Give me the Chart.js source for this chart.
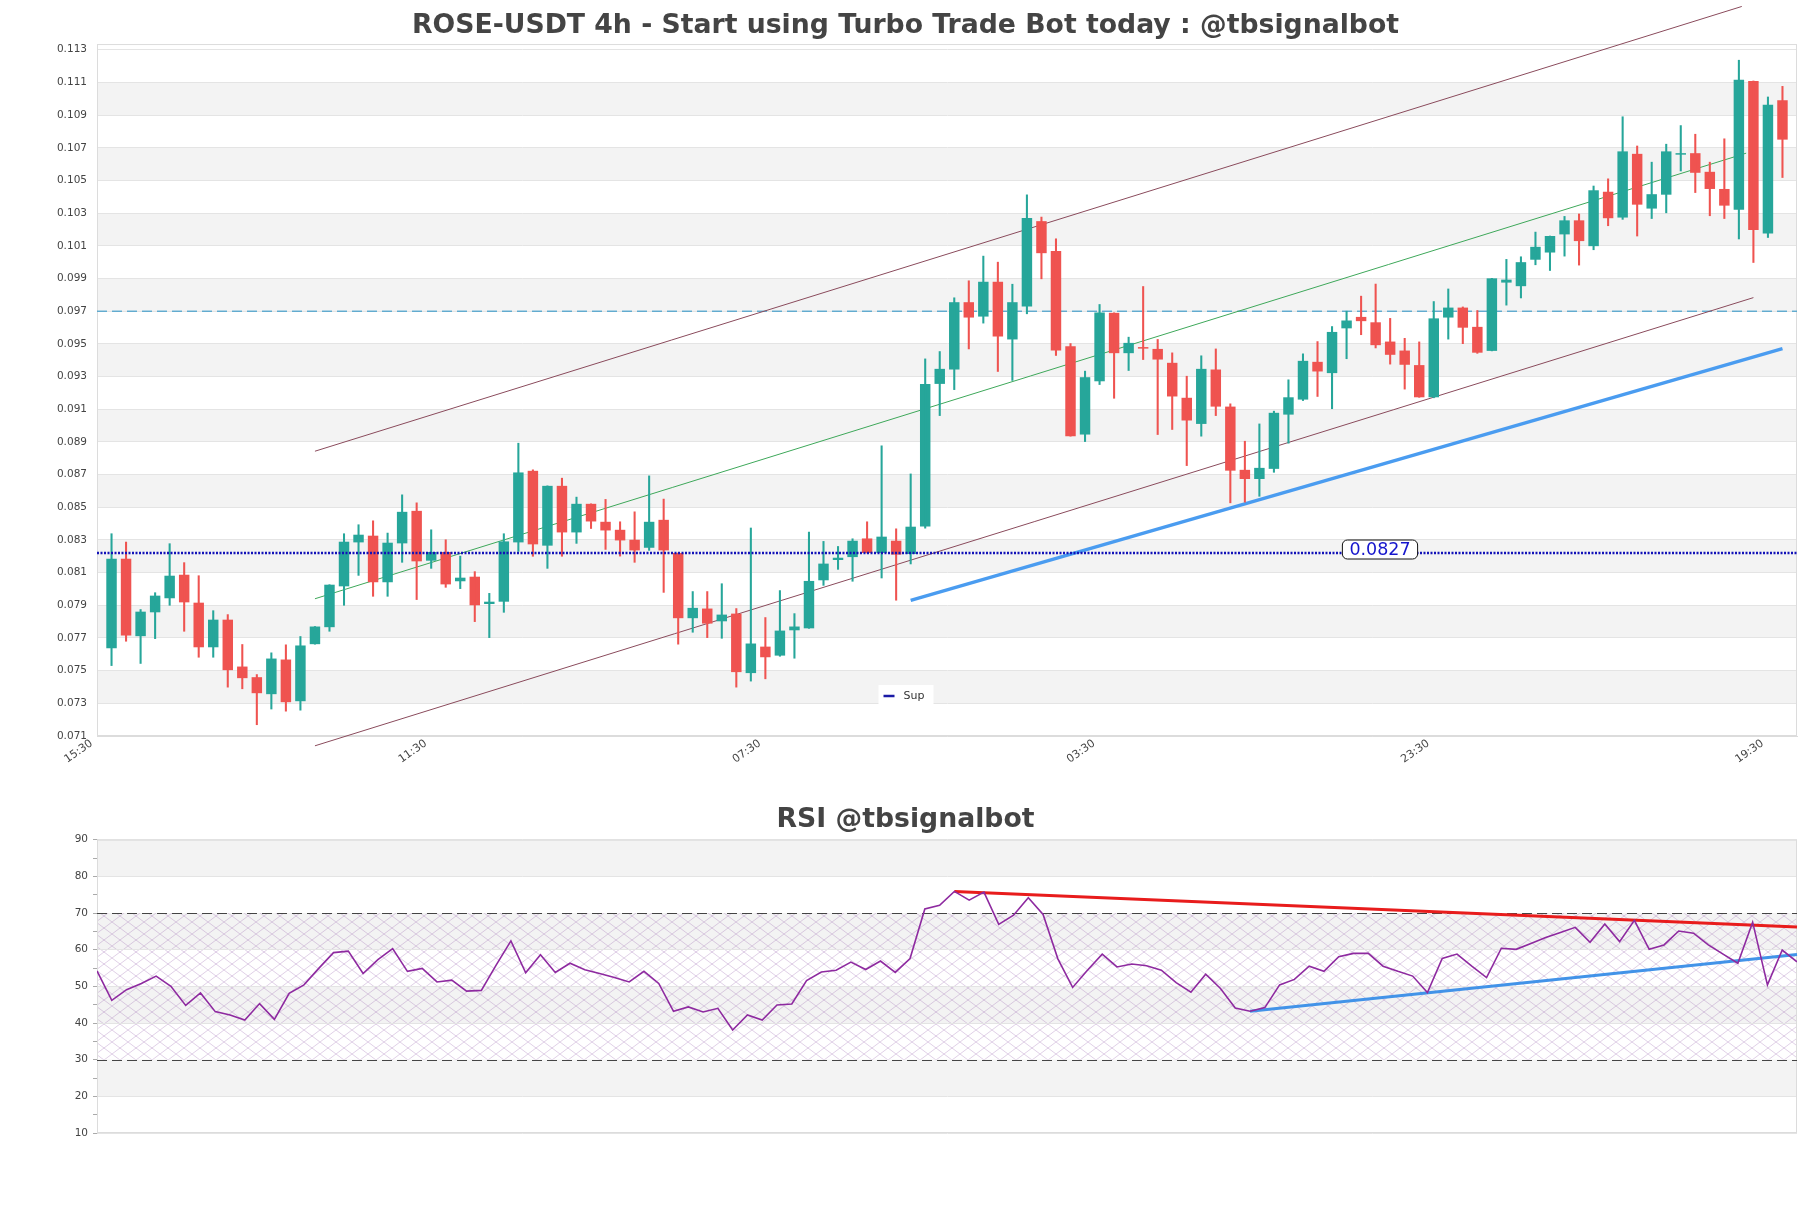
<!DOCTYPE html>
<html lang="en">
<head>
<meta charset="UTF-8">
<title>ROSE-USDT 4h</title>
<script src="https://cdn.jsdelivr.net/npm/chart.js@4.4.1/dist/chart.umd.min.js"></script>
<style>
  html, body { margin: 0; padding: 0; background: #fff; }
  #wrap { position: relative; width: 1811px; height: 1208px; overflow: hidden; }
  #priceChart { position: absolute; left: 0; top: 0; }
  #rsiChart { position: absolute; left: 0; top: 790px; }
</style>
</head>
<body>
<div id="wrap">
  <canvas id="priceChart" width="1811" height="790"></canvas>
  <canvas id="rsiChart" width="1811" height="418"></canvas>
</div>
<script>
// --- candle times (4h) ---
const times = [
  '15:30','19:30','23:30','03:30','07:30','11:30', '15:30','19:30','23:30','03:30','07:30','11:30',
  '15:30','19:30','23:30','03:30','07:30','11:30', '15:30','19:30','23:30','03:30','07:30','11:30',
  '15:30','19:30','23:30','03:30','07:30','11:30', '15:30','19:30','23:30','03:30','07:30','11:30',
  '15:30','19:30','23:30','03:30','07:30','11:30', '15:30','19:30','23:30','03:30','07:30','11:30',
  '15:30','19:30','23:30','03:30','07:30','11:30', '15:30','19:30','23:30','03:30','07:30','11:30',
  '15:30','19:30','23:30','03:30','07:30','11:30', '15:30','19:30','23:30','03:30','07:30','11:30',
  '15:30','19:30','23:30','03:30','07:30','11:30', '15:30','19:30','23:30','03:30','07:30','11:30',
  '15:30','19:30','23:30','03:30','07:30','11:30', '15:30','19:30','23:30','03:30','07:30','11:30',
  '15:30','19:30','23:30','03:30','07:30','11:30', '15:30','19:30','23:30','03:30','07:30','11:30',
  '15:30','19:30','23:30','03:30','07:30','11:30', '15:30','19:30'
];

// --- OHLC ---
const opens = [
  0.07637,0.08185,0.07711,0.07857,0.07943,0.08087,0.07916,0.07643,0.07812,0.07525,
  0.07460,0.07356,0.07568,0.07313,0.07662,0.07766,0.08016,0.08285,0.08326,0.08041,
  0.08279,0.08478,0.08173,0.08226,0.08047,0.08075,0.07908,0.07922,0.08285,0.08723,
  0.08265,0.08631,0.08346,0.08521,0.08411,0.08362,0.08301,0.08252,0.08423,0.08220,
  0.07821,0.07880,0.07802,0.07849,0.07485,0.07647,0.07592,0.07747,0.07759,0.08053,
  0.08177,0.08195,0.08309,0.08220,0.08295,0.08214,0.08382,0.09255,0.09343,0.09755,
  0.09667,0.09880,0.09527,0.09729,0.10251,0.10069,0.09486,0.08945,0.09271,0.09690,
  0.09443,0.09480,0.09469,0.09384,0.09170,0.09010,0.09343,0.09116,0.08729,0.08673,
  0.08735,0.09067,0.09159,0.09390,0.09321,0.09595,0.09665,0.09632,0.09514,0.09459,
  0.09370,0.09173,0.09661,0.09722,0.09604,0.09457,0.09875,0.09853,0.10015,0.10059,
  0.10170,0.10256,0.10098,0.10431,0.10273,0.10663,0.10328,0.10413,0.10658,0.10667,
  0.10553,0.10448,0.10321,0.11109,0.10175,0.10991
];
const highs = [
  0.08338,0.08287,0.07874,0.07977,0.08277,0.08161,0.08081,0.07867,0.07843,0.07660,
  0.07476,0.07609,0.07658,0.07709,0.07770,0.08026,0.08338,0.08393,0.08417,0.08342,
  0.08576,0.08527,0.08362,0.08301,0.08201,0.08106,0.07973,0.08338,0.08892,0.08729,
  0.08631,0.08678,0.08562,0.08521,0.08548,0.08411,0.08472,0.08692,0.08550,0.08220,
  0.07984,0.07984,0.08032,0.07880,0.08373,0.07825,0.07990,0.07849,0.08348,0.08291,
  0.08260,0.08307,0.08411,0.08876,0.08368,0.08704,0.09408,0.09453,0.09782,0.09886,
  0.10037,0.10000,0.09865,0.10412,0.10276,0.10143,0.09502,0.09333,0.09741,0.09690,
  0.09541,0.09851,0.09527,0.09445,0.09302,0.09427,0.09469,0.09133,0.08904,0.09010,
  0.09088,0.09280,0.09439,0.09514,0.09606,0.09700,0.09792,0.09866,0.09656,0.09534,
  0.09512,0.09759,0.09836,0.09726,0.09704,0.09901,0.10017,0.10033,0.10184,0.10160,
  0.10280,0.10295,0.10466,0.10510,0.10890,0.10711,0.10612,0.10722,0.10836,0.10783,
  0.10612,0.10755,0.11236,0.11109,0.11011,0.11076
];
const lows = [
  0.07531,0.07680,0.07544,0.07696,0.07900,0.07741,0.07582,0.07582,0.07399,0.07389,
  0.07169,0.07265,0.07252,0.07258,0.07662,0.07741,0.07900,0.08083,0.07955,0.07955,
  0.08163,0.07935,0.08126,0.08010,0.08002,0.07800,0.07702,0.07857,0.08230,0.08200,
  0.08126,0.08200,0.08279,0.08370,0.08242,0.08201,0.08163,0.08236,0.07979,0.07662,
  0.07735,0.07702,0.07698,0.07399,0.07436,0.07450,0.07588,0.07576,0.07759,0.08022,
  0.08120,0.08047,0.08220,0.08067,0.07931,0.08153,0.08372,0.09061,0.09220,0.09469,
  0.09627,0.09331,0.09276,0.09684,0.09898,0.09429,0.08935,0.08902,0.09251,0.09167,
  0.09337,0.09404,0.08945,0.08976,0.08755,0.08935,0.09061,0.08527,0.08531,0.08567,
  0.08714,0.08892,0.09153,0.09178,0.09103,0.09409,0.09556,0.09475,0.09376,0.09223,
  0.09173,0.09170,0.09529,0.09501,0.09442,0.09457,0.09737,0.09781,0.09984,0.09949,
  0.10037,0.09982,0.10076,0.10223,0.10262,0.10160,0.10267,0.10302,0.10558,0.10426,
  0.10284,0.10267,0.10142,0.09998,0.10151,0.10518
];
const closes = [
  0.08185,0.07715,0.07861,0.07959,0.08081,0.07918,0.07643,0.07812,0.07503,0.07454,
  0.07362,0.07574,0.07307,0.07654,0.07770,0.08026,0.08289,0.08332,0.08041,0.08283,
  0.08472,0.08169,0.08226,0.08028,0.08069,0.07900,0.07922,0.08291,0.08713,0.08273,
  0.08631,0.08346,0.08521,0.08413,0.08358,0.08297,0.08236,0.08411,0.08236,0.07821,
  0.07884,0.07788,0.07843,0.07491,0.07666,0.07582,0.07745,0.07770,0.08049,0.08155,
  0.08191,0.08295,0.08220,0.08320,0.08210,0.08381,0.09255,0.09347,0.09755,0.09661,
  0.09880,0.09545,0.09755,0.10271,0.10055,0.09459,0.08935,0.09296,0.09692,0.09443,
  0.09506,0.09471,0.09404,0.09178,0.09031,0.09347,0.09116,0.08724,0.08673,0.08741,
  0.09078,0.09173,0.09396,0.09331,0.09573,0.09643,0.09639,0.09492,0.09433,0.09372,
  0.09173,0.09656,0.09722,0.09599,0.09446,0.09901,0.09893,0.10000,0.10094,0.10160,
  0.10256,0.10129,0.10440,0.10269,0.10678,0.10352,0.10416,0.10678,0.10667,0.10547,
  0.10448,0.10346,0.11116,0.10197,0.10963,0.10750
];

// --- price axis ticks ---
const priceTicks = [0.071,0.073,0.075,0.077,0.079,0.081,0.083,0.085,0.087,0.089,0.091,
                    0.093,0.095,0.097,0.099,0.101,0.103,0.105,0.107,0.109,0.111,0.113];
const xTickIdx = [0, 23, 46, 69, 92, 115];

// --- drawn levels and trend lines (index, price) ---
const resistLevel = 0.097;
const supLevel = 0.0822;
const supLabelText = '0.0827';
const supLabelIdx = 87.3;
const channelUpper = [[14, 0.08843], [112.2, 0.11565]];
const channelMid   = [[14, 0.07940], [112.5, 0.10667]];
const channelLower = [[14, 0.07040], [113.0, 0.09783]];
const supportLine  = [[55.0, 0.07930], [115, 0.09471]];

// --- RSI ---
const rsi = [
  54.2,46.2,49.1,50.8,52.8,50.0,44.8,48.2,43.1,42.2,
  40.8,45.3,41.0,48.1,50.4,54.9,59.2,59.6,53.5,57.3,
  60.3,54.1,54.9,51.2,51.7,48.7,48.9,55.8,62.4,53.7,
  58.6,53.8,56.3,54.5,53.5,52.4,51.2,54.1,50.8,43.2,
  44.4,43.0,44.0,38.1,42.2,40.8,44.9,45.2,51.6,53.9,
  54.4,56.6,54.6,56.9,53.8,57.6,71.1,72.1,75.9,73.5,
  75.7,66.9,69.4,74.2,69.6,57.5,49.7,54.4,58.8,55.3,
  56.1,55.6,54.4,51.0,48.4,53.3,49.4,44.1,43.2,44.2,
  50.4,51.9,55.5,54.1,58.1,59.0,59.0,55.5,54.1,52.8,
  48.3,57.6,58.8,55.5,52.4,60.4,60.1,61.7,63.3,64.7,
  66.1,62.0,67.0,62.2,68.0,60.1,61.3,65.1,64.5,61.3,
  58.8,56.3,67.5,50.4,59.9,56.7
];
const rsiTicks = [10, 20, 30, 40, 50, 60, 70, 80, 90];
const rsiMinorTicks = [10,15,20,25,30,35,40,45,50,55,60,65,70,75,80,85,90];
const rsiLevels = [70, 30];
const rsiResist = [[58, 75.9], [115, 66.2]];
const rsiSupport = [[78, 43.2], [115, 58.7]];

const UP = '#26a69a', DOWN = '#ef5350';
Chart.defaults.font.family = '"DejaVu Sans", sans-serif';
Chart.defaults.color = '#444';

const pts = arr => arr.map(p => ({x: p[0], y: p[1]}));

// alternating grey bands between ticks, optional hatch between rsi levels
const bandsPlugin = {
  id: 'bands',
  beforeDraw(chart, args, opts) {
    const {ctx, chartArea: a} = chart;
    const y = chart.scales.y;
    const t = opts.ticks;
    ctx.save();
    ctx.fillStyle = '#f3f3f3';
    for (let k = 1; k < t.length - 1; k += 2) {
      const top = y.getPixelForValue(t[k + 1]), bot = y.getPixelForValue(t[k]);
      ctx.fillRect(a.left, top, a.right - a.left, bot - top);
    }
    if (opts.hatch) {
      const tile = document.createElement('canvas');
      tile.width = 16; tile.height = 12;
      const tc = tile.getContext('2d');
      tc.strokeStyle = 'rgba(160,110,180,0.32)';
      tc.lineWidth = 1;
      tc.beginPath();
      tc.moveTo(0, 0); tc.lineTo(16, 12);
      tc.moveTo(16, 0); tc.lineTo(0, 12);
      tc.stroke();
      ctx.fillStyle = ctx.createPattern(tile, 'repeat');
      const top = y.getPixelForValue(opts.hatch[0]), bot = y.getPixelForValue(opts.hatch[1]);
      ctx.fillRect(a.left, top, a.right - a.left, bot - top);
    }
    ctx.restore();
  },
  beforeDatasetsDraw(chart, args, opts) {
    const {ctx, chartArea: a} = chart;
    ctx.save();
    ctx.strokeStyle = '#dcdcdc';
    ctx.lineWidth = 1;
    ctx.strokeRect(a.left + 0.5, a.top + 0.5, a.right - a.left - 1, a.bottom - a.top - 1);
    if (opts.levels) {
      const y = chart.scales.y;
      ctx.strokeStyle = '#444';
      ctx.setLineDash([10, 5]);
      opts.levels.forEach(v => {
        const py = Math.round(y.getPixelForValue(v)) + 0.5;
        ctx.beginPath(); ctx.moveTo(a.left, py); ctx.lineTo(a.right, py); ctx.stroke();
      });
    }
    ctx.restore();
  }
};

// price label box on support line + "Sup" legend
const supLabelPlugin = {
  id: 'supLabel',
  afterDatasetsDraw(chart) {
    const {ctx, chartArea: a} = chart;
    const x = chart.scales.x, y = chart.scales.y;
    const cx = x.getPixelForValue(supLabelIdx);
    const cy = y.getPixelForValue(supLevel) - 3.5;
    ctx.save();
    ctx.font = '17.5px "DejaVu Sans"';
    const w = ctx.measureText(supLabelText).width + 14, h = 19;
    ctx.beginPath();
    ctx.roundRect(cx - w / 2, cy - h / 2, w, h, 5);
    ctx.fillStyle = '#fff'; ctx.fill();
    ctx.strokeStyle = '#111'; ctx.lineWidth = 1; ctx.stroke();
    ctx.fillStyle = '#1515cc';
    ctx.textAlign = 'center'; ctx.textBaseline = 'middle';
    ctx.fillText(supLabelText, cx, cy + 1);

    const lx = chart.width / 2, ly = a.bottom - 40;
    ctx.fillStyle = '#fff';
    ctx.fillRect(lx - 27, ly - 11, 55, 21);
    ctx.strokeStyle = '#1a1aa6'; ctx.lineWidth = 2.5;
    ctx.beginPath(); ctx.moveTo(lx - 22, ly); ctx.lineTo(lx - 11, ly); ctx.stroke();
    ctx.fillStyle = '#333';
    ctx.font = '11px "DejaVu Sans"';
    ctx.textAlign = 'left';
    ctx.fillText('Sup', lx - 2, ly);
    ctx.restore();
  }
};

const lineDs = (data, color, width, extra) => Object.assign({
  type: 'line', data, borderColor: color, borderWidth: width,
  pointRadius: 0, fill: false, clip: false, order: 1
}, extra || {});

const bodies = opens.map((o, i) => ({x: i, y: [o, closes[i]]}));
const wicks = lows.map((l, i) => ({x: i, y: [l, highs[i]]}));
const candleColor = ctx => closes[ctx.dataIndex] >= opens[ctx.dataIndex] ? UP : DOWN;

new Chart(document.getElementById('priceChart'), {
  type: 'bar',
  data: {
    datasets: [
      {data: wicks, backgroundColor: candleColor, barThickness: 1.4, grouped: false, order: 0},
      {data: bodies, backgroundColor: candleColor, grouped: false, minBarLength: 1.5, order: 0},
      lineDs(pts(channelUpper), '#8a4b5c', 1),
      lineDs(pts(channelMid), '#3ea85a', 1),
      lineDs(pts(channelLower), '#8a4b5c', 1),
      lineDs(pts(supportLine), '#4a9cf0', 3.5),
      lineDs([{x: -1, y: resistLevel}, {x: 116, y: resistLevel}], '#2490c6', 1, {borderDash: [10, 5]}),
      lineDs([{x: -1, y: supLevel}, {x: 116, y: supLevel}], '#1212b8', 2.5, {borderDash: [2, 1.5], order: -1, label: 'Sup'})
    ]
  },
  options: {
    responsive: false,
    animation: false,
    layout: {padding: {left: 14, right: 14, top: 0, bottom: 0}},
    plugins: {
      legend: {display: false},
      tooltip: {enabled: false},
      title: {
        display: true,
        text: 'ROSE-USDT 4h - Start using Turbo Trade Bot today : @tbsignalbot',
        color: '#444',
        font: {size: 26.7, weight: 'bold'},
        padding: {top: 10.3, bottom: 1.7}
      },
      bands: {ticks: priceTicks}
    },
    scales: {
      x: {
        type: 'linear', min: -1, max: 116, offset: false,
        grid: {display: false, drawTicks: false},
        border: {color: '#dcdcdc'},
        afterBuildTicks: axis => { axis.ticks = xTickIdx.map(v => ({value: v})); },
        afterFit: s => { s.height = 54; },
        ticks: {
          font: {size: 11}, color: '#444',
          minRotation: 35, maxRotation: 35, labelOffset: -20, padding: 1,
          callback: v => times[v] || ''
        }
      },
      y: {
        min: 0.071, max: 0.11335,
        grid: {color: '#e4e4e4', drawTicks: false},
        border: {color: '#dcdcdc'},
        afterBuildTicks: axis => { axis.ticks = priceTicks.map(v => ({value: v})); },
        afterFit: s => { s.width = 83; },
        ticks: {font: {size: 10.5}, color: '#444', padding: 10, callback: v => v.toFixed(3)}
      }
    }
  },
  plugins: [bandsPlugin, supLabelPlugin]
});

new Chart(document.getElementById('rsiChart'), {
  type: 'line',
  data: {
    datasets: [
      lineDs(rsi.map((v, i) => ({x: i, y: v})), '#8e2aa0', 1.6, {clip: 0}),
      lineDs(pts(rsiResist), '#e81c1c', 3),
      lineDs(pts(rsiSupport), '#4293e8', 3)
    ]
  },
  options: {
    responsive: false,
    animation: false,
    layout: {padding: {left: 14, right: 14, top: 0, bottom: 75}},
    plugins: {
      legend: {display: false},
      tooltip: {enabled: false},
      title: {
        display: true,
        text: 'RSI @tbsignalbot',
        color: '#444',
        font: {size: 26.7, weight: 'bold'},
        padding: {top: 14.4, bottom: 3.26}
      },
      bands: {ticks: rsiTicks, hatch: [70, 30], levels: rsiLevels}
    },
    scales: {
      x: {type: 'linear', min: 0, max: 115, offset: false, display: false},
      y: {
        min: 10, max: 90,
        grid: {
          color: c => (c.tick.value % 10 === 0 && !rsiLevels.includes(c.tick.value)) ? '#e4e4e4' : 'rgba(0,0,0,0)',
          tickColor: '#aaa', tickLength: 4
        },
        border: {color: '#dcdcdc'},
        afterBuildTicks: axis => { axis.ticks = rsiMinorTicks.map(v => ({value: v})); },
        afterFit: s => { s.width = 83; },
        ticks: {font: {size: 10.5}, color: '#444', padding: 5,
                callback: v => rsiTicks.includes(v) ? String(v) : ''}
      }
    }
  },
  plugins: [bandsPlugin]
});
</script>
</body>
</html>
